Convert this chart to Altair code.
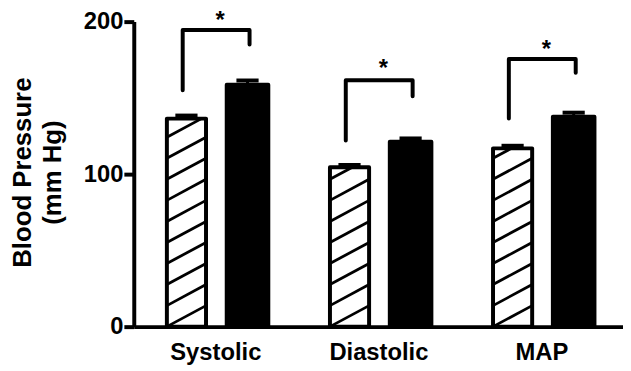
import altair as alt
import pandas as pd
import numpy as np

# ---- data ----
categories = ["Systolic", "Diastolic", "MAP"]
hatched_vals = [136.4, 104.5, 116.9]
hatched_sem = [2.0, 1.5, 1.7]
solid_vals = [158.6, 121.2, 137.7]
solid_sem = [2.8, 2.2, 2.6]
bracket_left = [155.0, 122.0, 136.5]
bracket_top = [194.5, 161.5, 175.5]
bracket_right = [185.0, 151.0, 166.5]
star_y = [196.0, 164.5, 177.0]
y_ticks = [0, 100, 200]

# ---- layout / style constants ----
FONT = "Liberation Sans"
H_OFF = (-0.297, -0.057)   # hatched bar extent relative to category center
S_OFF = (0.070, 0.325)     # solid bar extent relative to category center
CAP = 0.068
HATCH_STEP = 13.8           # vertical spacing of hatch lines (data units)
BR_L, BR_R = -0.2, 0.21
STAR_DX = 0.03

bars, errs, hatch, brackets, stars = [], [], [], [], []
for i, cat in enumerate(categories):
    c = i + 0.5
    for kind, vals, sems, off in (("h", hatched_vals, hatched_sem, H_OFF),
                                  ("s", solid_vals, solid_sem, S_OFF)):
        v, s = vals[i], sems[i]
        x0, x1 = c + off[0], c + off[1]
        xm = (x0 + x1) / 2
        bars.append({"x": x0, "x2": x1, "y": 0, "y2": v,
                     "fill": "transparent" if kind == "h" else "black"})
        errs.append({"x": xm, "xa": xm - CAP, "xb": xm + CAP, "y": v, "y2": v + s})
        if kind == "h":
            for k in range(-1, int(v / HATCH_STEP) + 2):
                yl = k * HATCH_STEP
                t0 = max(0.0, (0 - yl) / HATCH_STEP)
                t1 = min(1.0, (v - yl) / HATCH_STEP)
                if t1 > t0:
                    hatch.append({"x": x0 + t0 * (x1 - x0), "y": yl + t0 * HATCH_STEP,
                                  "x2": x0 + t1 * (x1 - x0), "y2": yl + t1 * HATCH_STEP})
    pts = [(c + BR_L, bracket_left[i]), (c + BR_L, bracket_top[i]),
           (c + BR_R, bracket_top[i]), (c + BR_R, bracket_right[i])]
    for j, (px, py) in enumerate(pts):
        brackets.append({"cat": cat, "o": j, "x": px, "y": py})
    stars.append({"x": c + STAR_DX, "y": star_y[i], "t": "*"})

bars = pd.DataFrame(bars)
errs = pd.DataFrame(errs)
hatch = pd.DataFrame(hatch)
brackets = pd.DataFrame(brackets)
stars = pd.DataFrame(stars)

label_expr = "[" + ",".join("'%s'" % c for c in categories) + "][floor(datum.value)]"

xscale = alt.Scale(domain=[0, 3], nice=False, zero=False)
yscale = alt.Scale(domain=[0, 200], nice=False)

x_axis = alt.Axis(values=[i + 0.5 for i in range(len(categories))], labelExpr=label_expr,
                  ticks=False, grid=False, domainColor="black", domainWidth=4,
                  labelFont=FONT, labelFontWeight="bold", labelFontSize=24,
                  labelColor="black", labelBaseline="alphabetic", labelPadding=33,
                  labelAngle=0)
y_axis = alt.Axis(values=y_ticks, grid=False, domainColor="black", domainWidth=4,
                  tickColor="black", tickWidth=4, tickSize=10,
                  labelFont=FONT, labelFontWeight="bold", labelFontSize=24,
                  labelColor="black", labelPadding=1,
                  titleFont=FONT, titleFontWeight="bold", titleFontSize=26,
                  titleColor="black", titleAngle=270, titleX=-104, titleY=152,
                  titleAlign="center", titleBaseline="alphabetic", titleLineHeight=30)

hatch_layer = alt.Chart(hatch).mark_rule(color="black", strokeWidth=2.8, strokeCap="butt").encode(
    x=alt.X("x:Q", scale=xscale, axis=x_axis, title=None),
    x2="x2:Q",
    y=alt.Y("y:Q", scale=yscale, axis=y_axis, title=["Blood Pressure", "(mm Hg)"]),
    y2="y2:Q",
)

bar_layer = alt.Chart(bars).mark_rect(stroke="black", strokeWidth=4, strokeJoin="round").encode(
    x="x:Q", x2="x2:Q", y="y:Q", y2="y2:Q",
    fill=alt.Fill("fill:N", scale=None),
)

err_v = alt.Chart(errs).mark_rule(color="black", strokeWidth=3).encode(
    x="x:Q", y="y:Q", y2="y2:Q")
err_cap = alt.Chart(errs).mark_rule(color="black", strokeWidth=4, strokeCap="butt").encode(
    x="xa:Q", x2="xb:Q", y="y2:Q")

bracket_layer = alt.Chart(brackets).mark_line(
    color="black", strokeWidth=4, strokeCap="round", strokeJoin="round").encode(
    x="x:Q", y="y:Q", detail="cat:N", order="o:Q")

star_layer = alt.Chart(stars).mark_text(
    font=FONT, fontWeight="bold", fontSize=24, color="black", baseline="alphabetic",
    align="center").encode(x="x:Q", y="y:Q", text="t:N")

chart = alt.layer(hatch_layer, bar_layer, err_v, err_cap, bracket_layer, star_layer).properties(
    width=494, height=308,
    autosize=alt.AutoSizeParams(type="none"),
    padding={"left": 127, "top": 12, "right": 0, "bottom": 40},
    background="white",
).configure_view(strokeWidth=0)

chart.save("out.html", embed_options={"renderer": "svg", "actions": False})
